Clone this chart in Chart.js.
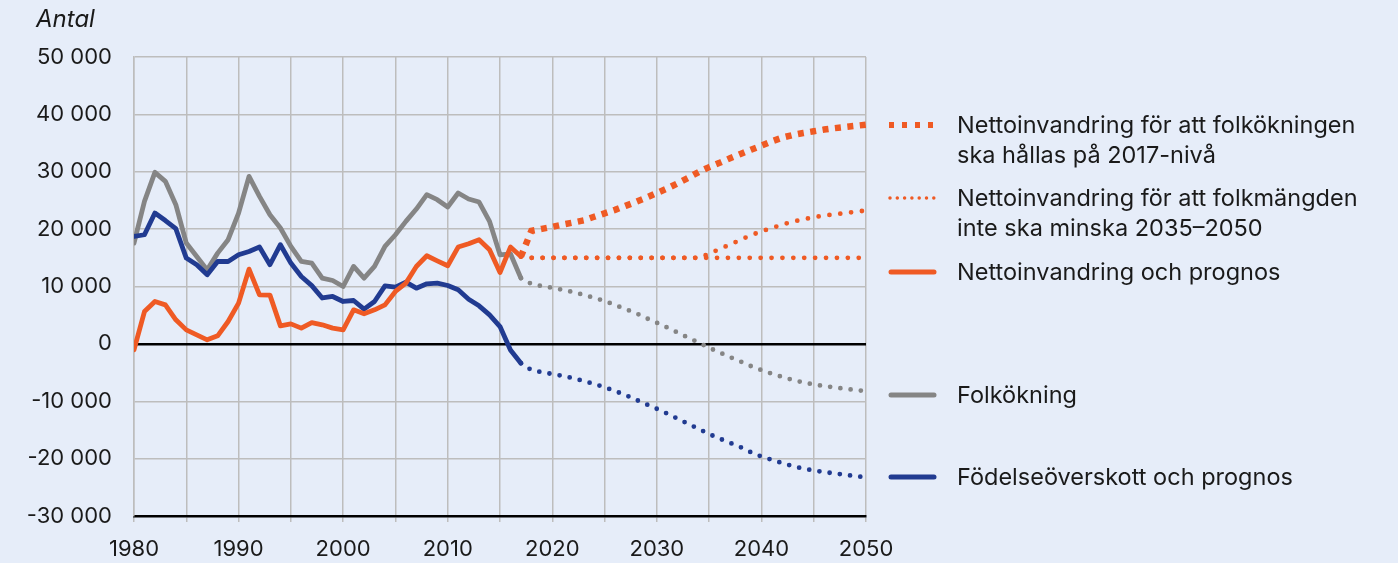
<!DOCTYPE html>
<html><head><meta charset="utf-8">
<script src="https://cdn.jsdelivr.net/npm/chart.js@4.4.1/dist/chart.umd.min.js"></script>
<style>
html,body{margin:0;padding:0;background:#e6edf9;}
#wrap{position:relative;width:1398px;height:563px;overflow:hidden;font-family:Inter,"Noto Sans",sans-serif;color:#1a1a1a;background:#e6edf9;}
#c{position:absolute;left:0;top:0;}
.antal{position:absolute;left:36px;top:4px;font-style:italic;font-size:24px;line-height:30px;}
.leg{position:absolute;left:888px;font-size:23.5px;line-height:30px;}
.leg svg{position:absolute;left:0;top:10px;}
.leg .t{position:absolute;left:69px;top:0;white-space:nowrap;}
</style></head>
<body>
<div id="wrap">
<canvas id="c" width="1398" height="563"></canvas>
<div class="antal">Antal</div>
<div class="leg" style="top:110px"><svg width="50" height="10"><line x1="1" y1="5" x2="48" y2="5" stroke="#ef5a24" stroke-width="6" stroke-dasharray="5 8"/></svg><div class="t">Nettoinvandring för att folkökningen<br>ska hållas på 2017-nivå</div></div>
<div class="leg" style="top:183px"><svg width="50" height="10"><line x1="2" y1="5" x2="47" y2="5" stroke="#ef5a24" stroke-width="3.5" stroke-linecap="round" stroke-dasharray="0 7.3"/></svg><div class="t">Nettoinvandring för att folkmängden<br>inte ska minska 2035–2050</div></div>
<div class="leg" style="top:257px"><svg width="50" height="10"><line x1="3" y1="5" x2="46" y2="5" stroke="#ef5a24" stroke-width="5" stroke-linecap="round"/></svg><div class="t">Nettoinvandring och prognos</div></div>
<div class="leg" style="top:380px"><svg width="50" height="10"><line x1="3" y1="5" x2="46" y2="5" stroke="#858585" stroke-width="5" stroke-linecap="round"/></svg><div class="t">Folkökning</div></div>
<div class="leg" style="top:462px"><svg width="50" height="10"><line x1="3" y1="5" x2="46" y2="5" stroke="#213b91" stroke-width="5" stroke-linecap="round"/></svg><div class="t">Födelseöverskott och prognos</div></div>
</div>
<script>
const histYears = [1980,1981,1982,1983,1984,1985,1986,1987,1988,1989,1990,1991,1992,1993,1994,1995,1996,1997,1998,1999,2000,2001,2002,2003,2004,2005,2006,2007,2008,2009,2010,2011,2012,2013,2014,2015,2016,2017];
const projYears = [2017,2018,2019,2020,2021,2022,2023,2024,2025,2026,2027,2028,2029,2030,2031,2032,2033,2034,2035,2036,2037,2038,2039,2040,2041,2042,2043,2044,2045,2046,2047,2048,2049,2050];

// Nettoinvandring (historical)
const netMigration = [-1050,5640,7390,6800,4190,2440,1570,700,1400,3900,7100,13030,8550,8500,3140,3490,2740,3720,3320,2740,2440,5930,5240,5930,6800,9130,10590,13490,15360,14480,13610,16870,17450,18150,16400,12440,16870,15230];
// Födelseöverskott (historical)
const natIncrease = [18720,19020,22800,21500,20070,14950,13790,12040,14360,14360,15530,16110,16870,13790,17280,14080,11750,10150,8000,8260,7390,7560,6050,7390,10120,9890,10760,9710,10470,10590,10180,9420,7790,6630,5060,3020,-1050,-3370];
// Folkökning (historical)
const popIncrease = [17570,24830,29900,28330,24260,17570,15240,12900,15820,18150,22800,29200,25700,22500,20200,17000,14360,14080,11460,11050,10000,13490,11460,13490,16980,19020,21350,23500,26000,25130,23850,26300,25250,24720,21350,15530,15700,11460];

// Projections 2017-2050
const netPrognos = [15230,15000,15000,15000,15000,15000,15000,15000,15000,15000,15000,15000,15000,15000,15000,15000,15000,15000,15000,15000,15000,15000,15000,15000,15000,15000,15000,15000,15000,15000,15000,15000,15000,15000];
const net2017Level = [15230,19700,20050,20400,20800,21150,21520,22150,22750,23350,24050,24750,25500,26300,27100,28000,28950,29950,30800,31550,32350,33100,33850,34550,35300,35950,36400,36750,37050,37350,37600,37800,38000,38200];
const netNoDecline = [15230,15000,15000,15000,15000,15000,15000,15000,15000,15000,15000,15000,15000,15000,15000,15000,15000,15000,15700,16550,17300,18150,18930,19620,20200,20790,21300,21700,22080,22360,22580,22800,23020,23250];
const natPrognos = [-3370,-4560,-4940,-5250,-5580,-5990,-6460,-6980,-7560,-8220,-8920,-9720,-10530,-11320,-12150,-13050,-13950,-14830,-15720,-16500,-17260,-18000,-18890,-19640,-20200,-20790,-21310,-21760,-22060,-22340,-22580,-22820,-23050,-23250];
const popPrognos = [11460,10450,10070,9770,9430,9030,8540,8030,7480,6780,6070,5360,4480,3680,2840,1970,1080,220,-680,-1500,-2300,-3060,-3880,-4560,-5200,-5760,-6300,-6720,-7060,-7350,-7600,-7830,-8030,-8250];

const yTicks = [-30000,-20000,-10000,0,10000,20000,30000,40000,50000];
const xLabelYears = [1980,1990,2000,2010,2020,2030,2040,2050];

const ORANGE = '#ef5a24', BLUE = '#213b91', GREY = '#858585';
const pts = (xs, ys) => xs.map((x, i) => ({x: x, y: ys[i]}));
const solid = (label, xs, ys, color) => ({label, data: pts(xs, ys), borderColor: color, borderWidth: 4.8, borderJoinStyle: 'round', borderCapStyle: 'round', pointRadius: 0, tension: 0, fill: false});
const dotted = (label, xs, ys, color, gap) => ({label, data: pts(xs, ys), borderColor: color, borderWidth: 4.8, borderDash: [0, gap], borderCapStyle: 'round', pointRadius: 0, tension: 0, fill: false});

const fmt = v => String(v).replace(/\B(?=(\d{3})+(?!\d))/g, ' ');

new Chart(document.getElementById('c'), {
  type: 'line',
  data: {
    datasets: [
      solid('Nettoinvandring', histYears, netMigration, ORANGE),
      dotted('Nettoinvandring prognos', projYears, netPrognos, ORANGE, 10.9),
      {label: 'Nettoinvandring för att folkökningen ska hållas på 2017-nivå', data: pts(projYears, net2017Level), borderColor: ORANGE, borderWidth: 6.5, borderDash: [6, 6.5], borderCapStyle: 'butt', pointRadius: 0, tension: 0, fill: false},
      dotted('Nettoinvandring för att folkmängden inte ska minska 2035–2050', projYears, netNoDecline, ORANGE, 10.9),
      solid('Födelseöverskott', histYears, natIncrease, BLUE),
      dotted('Födelseöverskott prognos', projYears, natPrognos, BLUE, 10.3),
      solid('Folkökning', histYears, popIncrease, GREY),
      dotted('Folkökning prognos', projYears, popPrognos, GREY, 10.3)
    ]
  },
  options: {
    responsive: false,
    animation: false,
    layout: {padding: {left: 0, top: 57, right: 532, bottom: 0}},
    plugins: {legend: {display: false}, tooltip: {enabled: false}},
    scales: {
      x: {
        type: 'linear', min: 1980, max: 2050,
        afterBuildTicks: s => { s.ticks = [1980,1985,1990,1995,2000,2005,2010,2015,2020,2025,2030,2035,2040,2045,2050].map(v => ({value: v})); },
        ticks: {autoSkip: false, maxRotation: 0, padding: 14, color: '#1a1a1a', font: {family: 'Inter', size: 22},
          callback: v => xLabelYears.includes(v) ? String(v) : ''},
        grid: {color: '#bdbdbd', lineWidth: 1.5, tickLength: 6, drawTicks: true},
        border: {display: true, color: '#000', width: 2.5},
        afterFit: s => { s.height = 47; }
      },
      y: {
        min: -30000, max: 50000,
        afterBuildTicks: s => { s.ticks = yTicks.map(v => ({value: v})); },
        ticks: {padding: 22, color: '#1a1a1a', font: {family: 'Inter', size: 22}, callback: v => fmt(v)},
        grid: {drawTicks: false,
          color: c => (c.tick && c.tick.value === 0) ? '#000' : '#bdbdbd',
          lineWidth: c => (c.tick && c.tick.value === 0) ? 2.5 : 1.5},
        border: {display: true, color: '#bdbdbd', width: 1.5},
        afterFit: s => { s.width = 134; }
      }
    }
  }
});
</script>
</body></html>
